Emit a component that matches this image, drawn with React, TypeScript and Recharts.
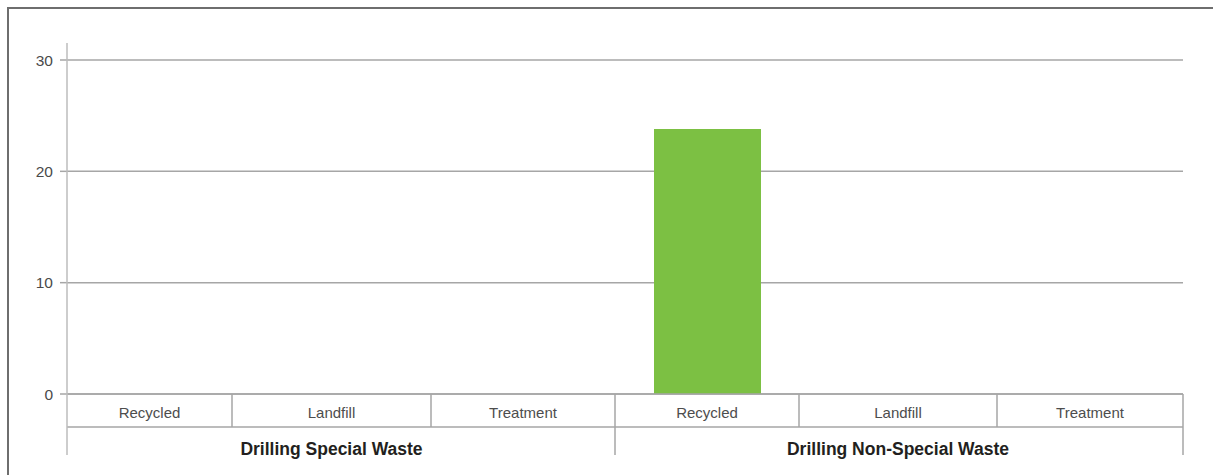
import React from 'react';
import { ComposedChart, Bar, XAxis, YAxis, CartesianGrid } from 'recharts';

// Waste volumes by disposal route
const groups = ['Drilling Special Waste', 'Drilling Non-Special Waste'];
const wasteTypes = ['Recycled', 'Landfill', 'Treatment'];
const specialWaste = [0, 0, 0];
const nonSpecialWaste = [23.8, 0, 0];
const yTicks = [0, 10, 20, 30];

// Layout: relative widths of the six table columns under the plot
const COLUMN_WEIGHTS = [165, 199, 184, 184, 198, 186];

const WIDTH = 1213;
const HEIGHT = 475;
const MARGIN = { top: 60, right: 30, bottom: 20, left: 0 };
const Y_AXIS_WIDTH = 67;
const CAT_ROW_H = 33;
const GROUP_ROW_H = 28;
const FONT = '"Liberation Sans", Arial, Helvetica, sans-serif';
const LINE = '#a6a6a6';
const AXIS_LINE = '#bdbdbd';
const BAR_FILL = '#7cc043';

const groupValues = [specialWaste, nonSpecialWaste];

type Column = { group: number; type: string; value: number; start: number; end: number; center: number };

const columns: Column[] = [];
{
  let acc = 0;
  groups.forEach((_, gi) => {
    wasteTypes.forEach((t, ti) => {
      const w = COLUMN_WEIGHTS[gi * wasteTypes.length + ti];
      columns.push({ group: gi, type: t, value: groupValues[gi][ti], start: acc, end: acc + w, center: acc + w / 2 });
      acc += w;
    });
  });
}
const TOTAL = columns[columns.length - 1].end;

const data = columns.map((c) => ({ pos: c.center, value: c.value, name: c.type }));

type TickInfo = { kind: 'edge'; long: boolean; first: boolean } | { kind: 'label'; text: string };
const catTicks: number[] = [];
const catInfo = new Map<number, TickInfo>();
columns.forEach((c, i) => {
  if (i === 0) {
    catTicks.push(c.start);
    catInfo.set(c.start, { kind: 'edge', long: true, first: true });
  }
  catTicks.push(c.center);
  catInfo.set(c.center, { kind: 'label', text: c.type });
  const groupEnd = (i + 1) % wasteTypes.length === 0;
  catTicks.push(c.end);
  catInfo.set(c.end, { kind: 'edge', long: groupEnd, first: false });
});

// group caption sits under the middle column of each group
const groupTicks = groups.map((_, gi) => columns[gi * wasteTypes.length + 1].center);
const groupInfo = new Map<number, string>(groups.map((g, gi) => [groupTicks[gi], g]));

const CatTick = (props: any) => {
  const { x, y, payload } = props;
  const info = catInfo.get(payload.value);
  if (!info) return null;
  if (info.kind === 'edge') {
    const bottom = y + CAT_ROW_H + (info.long ? GROUP_ROW_H : 0);
    if (info.first) {
      return <line x1={x} x2={x} y1={MARGIN.top - 17} y2={bottom} stroke={AXIS_LINE} strokeWidth={1.5} />;
    }
    return <line x1={x} x2={x} y1={y} y2={bottom} stroke={LINE} strokeWidth={1.5} />;
  }
  return (
    <text x={x} y={y + 24} textAnchor="middle" fontFamily={FONT} fontSize={15} fill="#4d4d4d">
      {info.text}
    </text>
  );
};

const GroupTick = (props: any) => {
  const { x, y, payload } = props;
  const text = groupInfo.get(payload.value);
  if (!text) return null;
  return (
    <text x={x} y={y + 27.5} textAnchor="middle" fontFamily={FONT} fontSize={17.5} fontWeight="bold" fill="#231f20">
      {text}
    </text>
  );
};

export default function App() {
  return (
    <div style={{ position: 'fixed', left: 0, top: 0, width: WIDTH, height: HEIGHT, overflow: 'hidden', background: '#fff' }}>
      <div
        style={{
          position: 'absolute',
          left: 7,
          top: 7,
          width: WIDTH,
          height: HEIGHT,
          borderLeft: '2px solid #6e6e6e',
          borderTop: '2px solid #6e6e6e',
        }}
      />
      <div style={{ position: 'absolute', left: 0, top: 0 }}>
        <ComposedChart width={WIDTH} height={HEIGHT} data={data} margin={MARGIN}>
          <CartesianGrid xAxisId="cat" vertical={false} stroke={LINE} strokeWidth={1.5} />
          <XAxis
            xAxisId="cat"
            type="number"
            dataKey="pos"
            domain={[0, TOTAL]}
            ticks={catTicks}
            interval={0}
            height={CAT_ROW_H}
            axisLine={{ stroke: LINE, strokeWidth: 1.5 }}
            tickLine={false}
            tickSize={0}
            tickMargin={0}
            tick={<CatTick />}
          />
          <XAxis
            xAxisId="grp"
            type="number"
            dataKey="pos"
            domain={[0, TOTAL]}
            ticks={groupTicks}
            interval={0}
            height={GROUP_ROW_H}
            axisLine={{ stroke: LINE, strokeWidth: 1.5 }}
            tickLine={false}
            tickSize={0}
            tickMargin={0}
            tick={<GroupTick />}
          />
          <YAxis
            type="number"
            domain={[0, 30]}
            ticks={yTicks}
            width={Y_AXIS_WIDTH}
            axisLine={false}
            tickLine={{ stroke: LINE, strokeWidth: 1.5 }}
            tickSize={7}
            tickMargin={7}
            tick={{ fontFamily: FONT, fontSize: 15.5, fill: '#4a4a4a' }}
          />
          <Bar xAxisId="cat" dataKey="value" fill={BAR_FILL} barSize={107} isAnimationActive={false} />
        </ComposedChart>
      </div>
    </div>
  );
}
